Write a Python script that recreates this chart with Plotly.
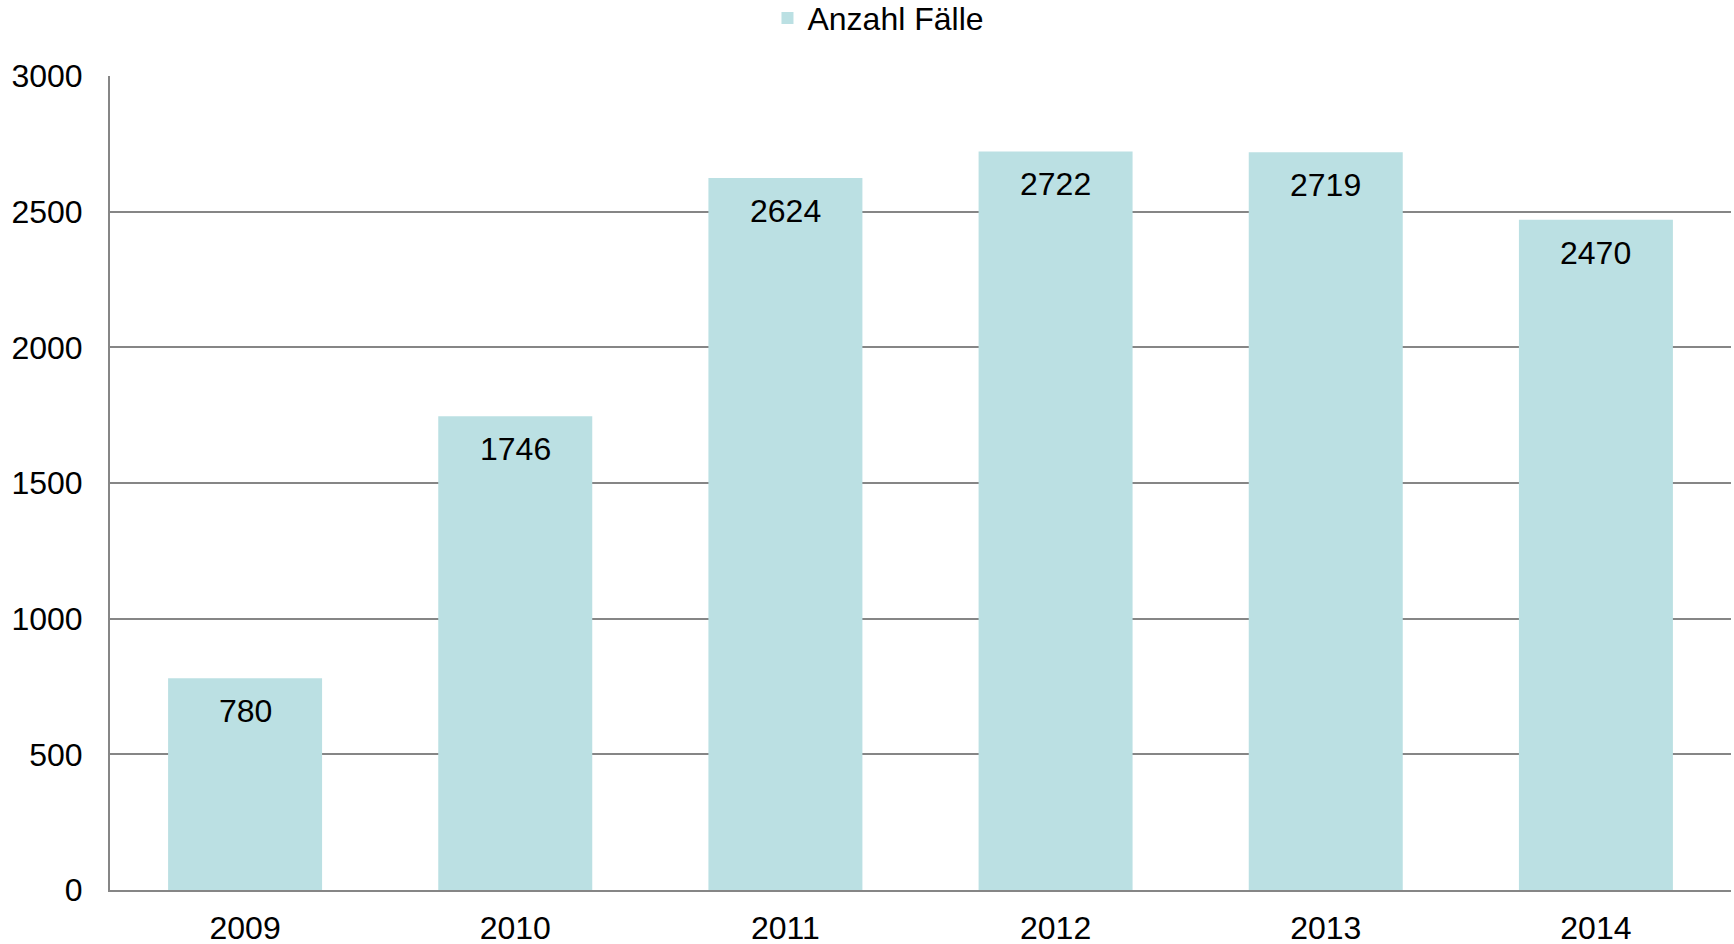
import plotly.graph_objects as go

years = ["2009", "2010", "2011", "2012", "2013", "2014"]
cases = [780, 1746, 2624, 2722, 2719, 2470]
series_name = "Anzahl Fälle"
y_ticks = [0, 500, 1000, 1500, 2000, 2500, 3000]

FONT = "Liberation Sans, Arial, sans-serif"
BAR = "#BBE0E3"
GRID = "#868686"
FS = 32

fig = go.Figure()
fig.add_trace(go.Bar(x=years, y=cases, name=series_name, marker_color=BAR,
                     marker_line_width=0, showlegend=True))

# value labels: positioned on the category axis by index, at the bar's value
for i, v in enumerate(cases):
    fig.add_annotation(x=i, y=v, xref="x", yref="y", text=str(v), showarrow=False,
                       yanchor="top", yshift=-13,
                       font=dict(family=FONT, size=FS, color="#000000"))

fig.update_layout(
    width=1734, height=944,
    margin=dict(l=110, r=3, t=76, b=54, autoexpand=False),
    paper_bgcolor="white", plot_bgcolor="white",
    font=dict(family=FONT, size=FS, color="#000000"),
    showlegend=True,
    legend=dict(orientation="h", x=0.4056, xanchor="left", y=1.071, yanchor="middle",
                font=dict(family=FONT, size=FS), itemwidth=30,
                bgcolor="rgba(0,0,0,0)"),
    bargap=0.43,
)
fig.update_yaxes(range=[0, 3000], tickvals=y_ticks, showgrid=True, gridcolor=GRID,
                 gridwidth=1.5, showline=True, linecolor=GRID, linewidth=2,
                 zeroline=False, ticks="", ticklabelstandoff=19,
                 tickfont=dict(family=FONT, size=FS))
fig.update_xaxes(type="category", range=[-0.5, 5.5], showline=True, linecolor=GRID,
                 linewidth=2, showgrid=False, ticks="", ticklabelstandoff=9,
                 tickfont=dict(family=FONT, size=FS))

fig.write_html("out.html", config={"displayModeBar": False},
               post_script="document.body.style.margin='0';document.body.style.overflow='hidden';")
